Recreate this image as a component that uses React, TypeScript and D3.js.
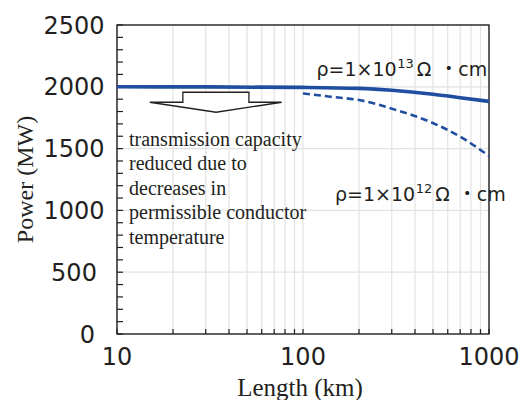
import React from "react";
import * as d3 from "d3";

// Data
const lengthsHigh = [10, 30, 100, 200, 300, 500, 700, 1000];
const powerHigh = [2000, 1999, 1995, 1987, 1972, 1940, 1912, 1882];
const lengthsLow = [100, 140, 200, 317, 480, 725, 1000];
const powerLow = [1947, 1920, 1893, 1812, 1718, 1583, 1440];
const yTicks = [0, 500, 1000, 1500, 2000, 2500];
const xTicks = [10, 100, 1000];
const annotationLines = [
  "transmission capacity",
  "reduced due to",
  "decreases in",
  "permissible conductor",
  "temperature",
];
const seriesExponents = ["13", "12"];
const arrowKm = [15, 22.6, 22.6, 51.2, 51.2, 76.8, 34.1];
const arrowMW = [1875, 1875, 1956, 1956, 1875, 1875, 1794];

const W = 526;
const H = 400;
const M = { left: 117, right: 37, top: 25, bottom: 66 };
const BLUE = "#1f4ea1";
const INK = "#231f20";
const GRID = "#e2e2e2";
const SANS = "'DejaVu Sans', 'Noto Sans CJK JP', sans-serif";
const CJK = "'Noto Sans CJK JP', sans-serif";
const SERIF = "'Liberation Serif', 'Times New Roman', serif";

function RhoLabel({ x, y, exp }: { x: number; y: number; exp: string }) {
  return (
    <text x={x} y={y} fontFamily={SANS} fontSize={19} fill={INK}>
      ρ=1×10
      <tspan fontSize={13} dy={-8} dx={0.5}>{exp}</tspan>
      <tspan dy={8} dx={3}>Ω</tspan>
      <tspan fontFamily={CJK} dx={8}>・</tspan>
      <tspan>cm</tspan>
    </text>
  );
}

export default function App() {
  const x = d3.scaleLog().domain([10, 1000]).range([M.left, W - M.right]);
  const y = d3.scaleLinear().domain([0, 2500]).range([H - M.bottom, M.top]);
  const [x0, x1] = x.range();
  const [y0, y1] = y.range();

  const line = d3
    .line<[number, number]>()
    .x((d) => x(d[0]))
    .y((d) => y(d[1]))
    .curve(d3.curveMonotoneX);

  const high = lengthsHigh.map((l, i) => [l, powerHigh[i]] as [number, number]);
  const low = lengthsLow.map((l, i) => [l, powerLow[i]] as [number, number]);
  const minorX = x.ticks();
  const minorY = d3.range(0, 2501, 100);
  const arrowPts = arrowKm.map((k, i) => `${x(k)},${y(arrowMW[i])}`).join(" ");

  return (
    <svg
      width={W}
      height={H}
      style={{ position: "absolute", left: 0, top: 0, background: "#fff" }}
    >
      {/* grid */}
      {minorX.map((t) => (
        <line key={"gx" + t} x1={x(t)} x2={x(t)} y1={y1} y2={y0} stroke={GRID} strokeWidth={1.2} />
      ))}
      {yTicks.slice(1, -1).map((t) => (
        <line key={"gy" + t} x1={x0} x2={x1} y1={y(t)} y2={y(t)} stroke={GRID} strokeWidth={1.2} />
      ))}
      {/* ticks */}
      {minorY.map((t) => (
        <line key={"ty" + t} x1={x0} x2={x0 + 6} y1={y(t)} y2={y(t)} stroke={INK} strokeWidth={1.2} />
      ))}
      {minorX.map((t) => (
        <line key={"tx" + t} x1={x(t)} x2={x(t)} y1={y0} y2={y0 - 5} stroke={INK} strokeWidth={1.2} />
      ))}
      {/* frame */}
      <rect x={x0} y={y1} width={x1 - x0} height={y0 - y1} fill="none" stroke={INK} strokeWidth={1.4} />

      {/* arrow */}
      <polygon points={arrowPts} fill="#fff" stroke={INK} strokeWidth={1.3} strokeLinejoin="miter" />

      {/* series */}
      <path d={line(high) || ""} fill="none" stroke={BLUE} strokeWidth={3.6} />
      <path d={line(low) || ""} fill="none" stroke={BLUE} strokeWidth={2.6} strokeDasharray="7,4" />

      {/* annotation */}
      <text fontFamily={SERIF} fontSize={20} fill={INK}>
        {annotationLines.map((s, i) => (
          <tspan key={i} x={129} y={146 + i * 24.4}>
            {s}
          </tspan>
        ))}
      </text>

      {/* series labels */}
      <RhoLabel x={316.5} y={76} exp={seriesExponents[0]} />
      <RhoLabel x={335} y={201} exp={seriesExponents[1]} />

      {/* y tick labels */}
      {yTicks.map((t) => (
        <text
          key={"ly" + t}
          x={t === 0 ? 87.5 : 74}
          y={y(t)}
          dy="0.36em"
          textAnchor="middle"
          fontFamily={SANS}
          fontSize={24}
          fill={INK}
        >
          {t}
        </text>
      ))}
      {/* x tick labels */}
      {xTicks.map((t) => (
        <text
          key={"lx" + t}
          x={x(t)}
          y={365}
          textAnchor="middle"
          fontFamily={SANS}
          fontSize={24}
          fill={INK}
        >
          {t}
        </text>
      ))}

      {/* axis titles */}
      <text
        transform={`translate(33, ${(y0 + y1) / 2}) rotate(-90)`}
        textAnchor="middle"
        fontFamily={SERIF}
        fontSize={24}
        fill={INK}
      >
        Power (MW)
      </text>
      <text x={300} y={395.5} textAnchor="middle" fontFamily={SERIF} fontSize={25} fill={INK}>
        Length (km)
      </text>
    </svg>
  );
}
